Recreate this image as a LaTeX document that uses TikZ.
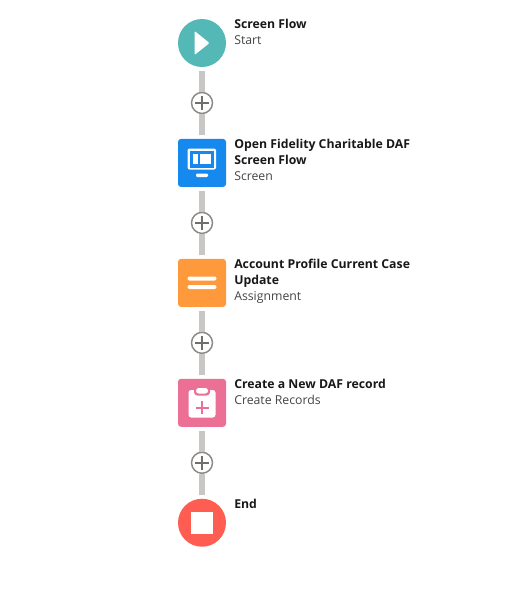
\documentclass[tikz,border=0pt]{standalone}
\usepackage{fontspec}
\setmainfont{Open Sans}
\usepackage{xcolor}
\usetikzlibrary{positioning}

\definecolor{startteal}{HTML}{54B8B6}
\definecolor{screenblue}{HTML}{1589EE}
\definecolor{assignorange}{HTML}{FF9A3C}
\definecolor{createpink}{HTML}{EC7096}
\definecolor{endred}{HTML}{FF5D52}
\definecolor{linegray}{HTML}{C9C7C5}
\definecolor{ringgray}{HTML}{8C8A88}
\definecolor{plusgray}{HTML}{706E6B}
\definecolor{titleblack}{HTML}{181818}
\definecolor{subgray}{HTML}{444444}

\newcommand{\steptitle}[1]{\textcolor{titleblack}{\textbf{#1}}}

\begin{document}
\begin{tikzpicture}[
    x=0.75pt, y=-0.75pt,
    node distance=15.55pt,
    stepbox/.style={rectangle, rounded corners=2.25pt, inner sep=0pt, minimum size=36pt, outer sep=3pt},
    stepround/.style={circle, inner sep=0pt, minimum size=36pt, outer sep=3pt},
    addbtn/.style={circle, draw=ringgray, fill=white, line width=1.1pt, inner sep=0pt, minimum size=15.75pt},
    steplabel/.style={anchor=north west, xshift=24pt, yshift=18pt, align=left, inner sep=0pt, font=\fontsize{9.2}{12}\selectfont, text=subgray},
    flowline/.style={draw=linegray, line width=4.5pt},
    addmark/.style={draw=plusgray, line width=1.1pt}
]

\useasboundingbox (0,0) rectangle (516,614);

% Steps and add buttons, top to bottom
\node[stepround, fill=startteal] (start) at (202,43) {};
\node[addbtn, below=of start] (addone) {};
\node[stepbox, fill=screenblue, below=of addone] (screen) {};
\node[addbtn, below=of screen] (addtwo) {};
\node[stepbox, fill=assignorange, below=of addtwo] (assign) {};
\node[addbtn, below=of assign] (addthree) {};
\node[stepbox, fill=createpink, below=of addthree] (create) {};
\node[addbtn, below=of create] (addfour) {};
\node[stepround, fill=endred, below=of addfour] (end) {};

% Connectors
\draw[flowline] (start) -- (addone);
\draw[flowline] (addone) -- (screen);
\draw[flowline] (screen) -- (addtwo);
\draw[flowline] (addtwo) -- (assign);
\draw[flowline] (assign) -- (addthree);
\draw[flowline] (addthree) -- (create);
\draw[flowline] (create) -- (addfour);
\draw[flowline] (addfour) -- (end);

% Plus marks
\foreach \btn in {addone,addtwo,addthree,addfour}{
    \draw[addmark] ([xshift=-5.25pt]\btn.center) -- ([xshift=5.25pt]\btn.center);
    \draw[addmark] ([yshift=-5.25pt]\btn.center) -- ([yshift=5.25pt]\btn.center);
}

% Labels
\node[steplabel] (startlabel) at (start) {\steptitle{Screen Flow}\\Start};
\node[steplabel] (screenlabel) at (screen) {\steptitle{Open Fidelity Charitable DAF}\\\steptitle{Screen Flow}\\Screen};
\node[steplabel] (assignlabel) at (assign) {\steptitle{Account Profile Current Case}\\\steptitle{Update}\\Assignment};
\node[steplabel] (createlabel) at (create) {\steptitle{Create a New DAF record}\\Create Records};
\node[steplabel] (endlabel) at (end) {\steptitle{End}};

% Icons
\fill[white, rounded corners=0.8pt] (194.5,31) -- (209.5,43) -- (194.5,55) -- cycle;

\fill[white, rounded corners=1.5pt] (187.5,148.5) rectangle (216,169.5);
\fill[screenblue] (189.5,150.5) rectangle (214,167.5);
\fill[white] (193,154) rectangle (198,164);
\fill[white] (200,154) rectangle (211,164);
\fill[white, rounded corners=0.8pt] (196,173.5) rectangle (208,177);

\fill[white, rounded corners=1.5pt] (187.5,276.5) rectangle (216.5,280.5);
\fill[white, rounded corners=1.5pt] (187.5,285) rectangle (216.5,289);

\fill[white, rounded corners=2pt] (188.5,390) rectangle (215.5,417.5);
\fill[createpink, rounded corners=2.5pt] (194,386) rectangle (210,395.5);
\fill[white, rounded corners=2pt] (196,388) rectangle (208,393.5);
\draw[createpink, line width=1.5pt] (195.5,407.5) -- (208.5,407.5) (202,401) -- (202,414);

\fill[white] (191,512) rectangle (213,534);

\end{tikzpicture}
\end{document}
